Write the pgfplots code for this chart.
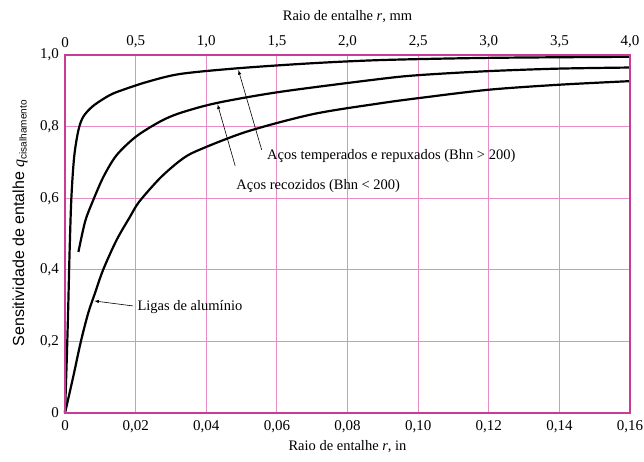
\documentclass[border=0pt]{standalone}
\usepackage{pgfplots}
\pgfplotsset{compat=1.18}
\usepackage{fontspec}
\setmainfont{Liberation Serif}
\newfontfamily\arial{Liberation Sans}
\definecolor{frame}{RGB}{200,60,150}
\definecolor{gridc}{RGB}{232,140,200}
\begin{document}
\fontsize{14.5}{17}\selectfont
\begin{tikzpicture}
\useasboundingbox (-65pt,-48pt) rectangle (579pt,413pt);
\begin{axis}[
  at={(0,0)}, anchor=south west,
  scale only axis, width=565pt, height=358pt,
  xmin=0, xmax=0.16, ymin=0, ymax=1,
  xtick={0,0.02,0.04,0.06,0.08,0.10,0.12,0.14,0.16},
  xticklabels={0,{0,02},{0,04},{0,06},{0,08},{0,10},{0,12},{0,14},{0,16}},
  ytick={0,0.2,0.4,0.6,0.8,1.0},
  yticklabels={0,{0,2},{0,4},{0,6},{0,8},{1,0}},
  axis x line*=bottom, axis y line*=left,
  major tick length=0pt, tick style={draw=none},
  grid=none,
  axis line style={frame, line width=1.4pt},
  tick label style={font=\fontsize{15}{17}\selectfont},
  xticklabel style={yshift=-2pt},
  yticklabel style={xshift=-1pt},
  xlabel={Raio de entalhe \textit{r}, in},
  xlabel style={at={(axis description cs:0.5,0)}, anchor=center, yshift=-34pt, font=\fontsize{14.5}{17}\selectfont},
  ylabel={{\arial Sensitividade de entalhe }\textit{q}\raisebox{-0.35ex}{\arial\fontsize{10}{10}\selectfont cisalhamento}},
  ylabel style={at={(axis description cs:0,0.53)}, anchor=center, yshift=45pt, font=\fontsize{16}{18}\selectfont},
  clip=false,
]
% grid lines drawn in pink
\pgfplotsinvokeforeach{0.02,0.04,0.06,0.08,0.10,0.12,0.14}{
  \draw[gridc, line width=1.2pt] (axis cs:#1,0) -- (axis cs:#1,1);
}
\pgfplotsinvokeforeach{0.2,0.4,0.6,0.8}{
  \draw[gridc, line width=0.9pt] (axis cs:0,#1) -- (axis cs:0.16,#1);
}
% Acos temperados e repuxados (Bhn > 200)
\addplot[black, line width=2.2pt, smooth, tension=0.5] coordinates {(0,0) (0.0005,0.15) (0.0009,0.29) (0.0013,0.45) (0.0018,0.6) (0.0026,0.716) (0.0038,0.79) (0.0052,0.828) (0.008,0.858) (0.0127,0.888) (0.0165,0.903) (0.0233,0.925) (0.0326,0.947) (0.049,0.963) (0.07,0.977) (0.09,0.986) (0.12,0.992) (0.16,0.995)};
% Acos recozidos (Bhn < 200)
\addplot[black, line width=2.2pt, smooth, tension=0.5] coordinates {(0.0038,0.45) (0.0057,0.535) (0.0078,0.59) (0.0109,0.66) (0.0146,0.72) (0.0201,0.772) (0.0269,0.814) (0.0326,0.838) (0.043,0.866) (0.0609,0.897) (0.0892,0.933) (0.1005,0.944) (0.12,0.955) (0.14,0.962) (0.16,0.965)};
% Ligas de aluminio
\addplot[black, line width=2.2pt, smooth, tension=0.5] coordinates {(0,0) (0.0023,0.1) (0.0045,0.2) (0.0066,0.28) (0.0085,0.335) (0.0108,0.40) (0.0146,0.483) (0.0184,0.548) (0.021,0.59) (0.0269,0.656) (0.0326,0.705) (0.0373,0.732) (0.0515,0.786) (0.0703,0.835) (0.0892,0.865) (0.1005,0.88) (0.12,0.903) (0.14,0.917) (0.16,0.927)};
\draw[-latex, line width=0.6pt] (axis cs:0.0557,0.735) -- (axis cs:0.0491,0.958);
\node[anchor=west, inner sep=0pt] at (axis cs:0.0572,0.717) {Aços temperados e repuxados (Bhn > 200)};
\draw[-latex, line width=0.6pt] (axis cs:0.0482,0.69) -- (axis cs:0.0432,0.862);
\node[anchor=west, inner sep=0pt] at (axis cs:0.0485,0.633) {Aços recozidos (Bhn < 200)};
\draw[-latex, line width=0.6pt] (axis cs:0.0193,0.299) -- (axis cs:0.0083,0.313);
\node[anchor=west, inner sep=0pt] at (axis cs:0.0205,0.297) {Ligas de alumínio};
\draw[frame, line width=1.4pt] (axis cs:0,0) rectangle (axis cs:0.16,1);
\end{axis}
\begin{axis}[
  at={(0,0)}, anchor=south west,
  scale only axis, width=565pt, height=358pt,
  xmin=0, xmax=4, ymin=0, ymax=1,
  axis x line*=top, axis y line=none,
  major tick length=0pt, tick style={draw=none},
  grid=none,
  xtick={0,0.5,1,1.5,2,2.5,3,3.5,4},
  xticklabels={0,{0,5},{1,0},{1,5},{2,0},{2,5},{3,0},{3,5},{4,0}},
  axis line style={frame, line width=1.4pt},
  tick label style={font=\fontsize{15}{17}\selectfont},
  xticklabel style={yshift=2pt},
  xlabel={Raio de entalhe \textit{r}, mm},
  xlabel style={at={(axis description cs:0.5,1)}, anchor=center, yshift=38pt, font=\fontsize{14.5}{17}\selectfont},
]
\end{axis}
\end{tikzpicture}
\end{document}
